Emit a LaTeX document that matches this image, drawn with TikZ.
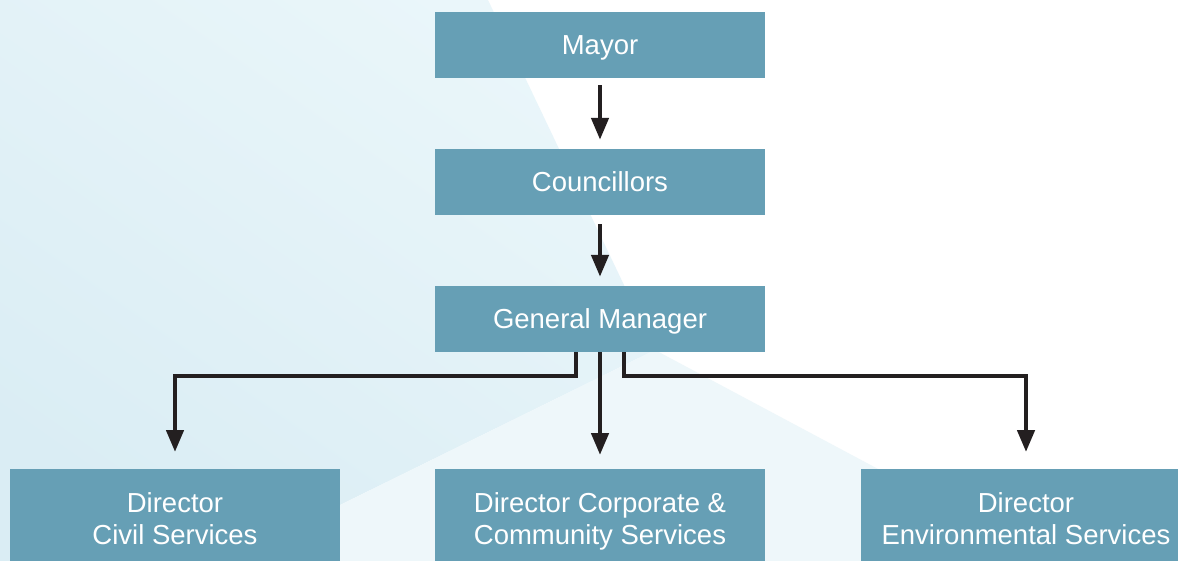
\documentclass[tikz,border=0pt]{standalone}
\usepackage{fontspec}
\setmainfont{Liberation Sans}
\usetikzlibrary{arrows.meta}
\definecolor{boxblue}{HTML}{669FB5}
\definecolor{bgdark}{HTML}{DAEDF4}
\definecolor{bglight}{HTML}{EAF6FA}
\definecolor{bgpale}{HTML}{EEF7FA}
\definecolor{arrowink}{HTML}{231F20}
\tikzset{
  orgbox/.style={fill=boxblue, draw=none, rectangle, minimum width=330pt, inner sep=0pt},
  toptext/.style={text=white, font=\fontsize{27.5}{32}\selectfont, text height=19.7pt, text depth=0pt},
  basetext/.style={text=white, font=\fontsize{27.5}{32}\selectfont, anchor=base, inner sep=0pt},
  link/.style={draw=arrowink, line width=4.5pt, -{Triangle[length=22pt,width=17pt]}},
}
\begin{document}
\begin{tikzpicture}[x=1pt,y=-1pt]
\useasboundingbox (0,0) rectangle (1178,560);
\begin{scope}
\clip (0,0) rectangle (1178,560);
\fill[white] (0,0) rectangle (1178,560);
% background shapes
\shade[bottom color=bgdark, top color=bglight, shading angle=-35]
  (0,0) -- (488,0) -- (655,350) -- (340,505) -- (340,570) -- (0,570) -- cycle;
\fill[bgpale] (340,505) -- (655,350) -- (880,470) -- (880,570) -- (340,570) -- cycle;
% boxes
\node[orgbox, minimum height=66pt, toptext] (mayor) at (600,45) {Mayor};
\node[orgbox, minimum height=66pt, toptext] (council) at (600,182) {Councillors};
\node[orgbox, minimum height=66pt, toptext] (gm) at (600,319) {General Manager};
\node[orgbox, minimum height=120pt, anchor=north] (civil) at (175,469) {};
\node[orgbox, minimum height=120pt, anchor=north] (corp) at (600,469) {};
\node[orgbox, minimum height=120pt, anchor=north] (env) at (1026,469) {};
\node[basetext] (civilA) at (175,512) {Director};
\node[basetext] (civilB) at (175,544) {Civil Services};
\node[basetext] (corpA) at (600,512) {Director Corporate \&};
\node[basetext] (corpB) at (600,544) {Community Services};
\node[basetext] (envA) at (1026,512) {Director};
\node[basetext] (envB) at (1026,544) {Environmental Services};
% connectors
\coordinate (gmL) at ([xshift=-24pt]gm.south);
\coordinate (gmR) at ([xshift=24pt]gm.south);
\coordinate (civilTop) at ([yshift=93pt]civil.north);
\coordinate (envTop) at ([yshift=93pt]env.north);
\draw[link, shorten <=7pt, shorten >=9pt] (mayor.south) -- (council.north);
\draw[link, shorten <=9pt, shorten >=9pt] (council.south) -- (gm.north);
\draw[link, shorten >=14pt] (gm.south) -- (corp.north);
\draw[link, shorten >=17pt] (gmL) |- (civilTop) -- (civil.north);
\draw[link, shorten >=17pt] (gmR) |- (envTop) -- (env.north);
\end{scope}
\end{tikzpicture}
\end{document}
